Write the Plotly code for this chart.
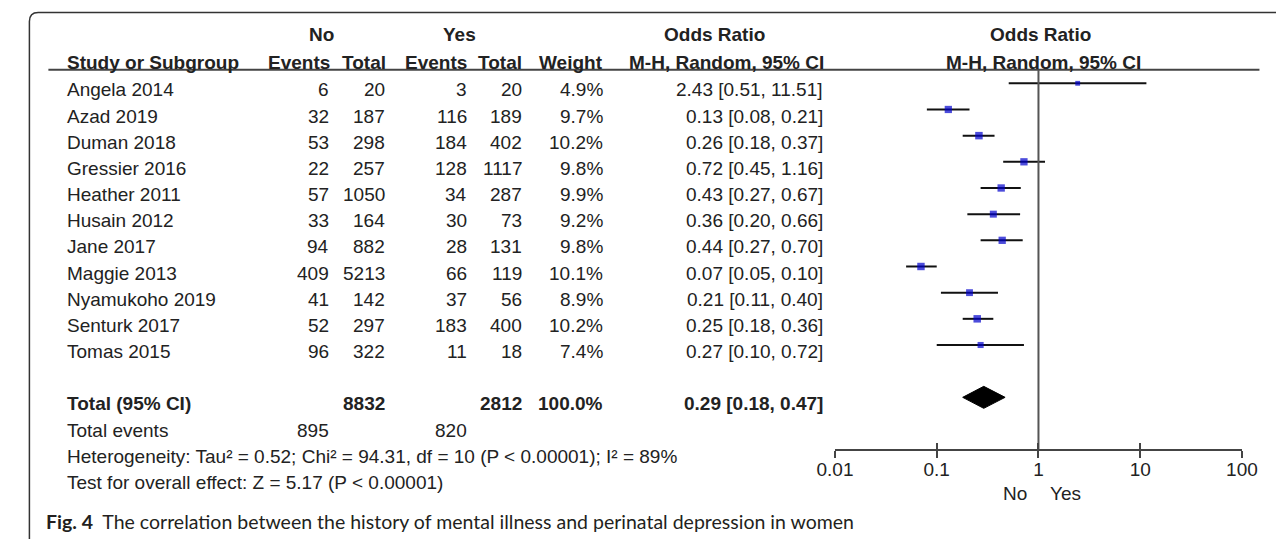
import plotly.graph_objects as go

W, H = 1284, 539

# ---------------- data ----------------
studies = ["Angela 2014", "Azad 2019", "Duman 2018", "Gressier 2016", "Heather 2011",
           "Husain 2012", "Jane 2017", "Maggie 2013", "Nyamukoho 2019", "Senturk 2017",
           "Tomas 2015"]
no_events = [6, 32, 53, 22, 57, 33, 94, 409, 41, 52, 96]
no_total = [20, 187, 298, 257, 1050, 164, 882, 5213, 142, 297, 322]
yes_events = [3, 116, 184, 128, 34, 30, 28, 66, 37, 183, 11]
yes_total = [20, 189, 402, 1117, 287, 73, 131, 119, 56, 400, 18]
weights = [4.9, 9.7, 10.2, 9.8, 9.9, 9.2, 9.8, 10.1, 8.9, 10.2, 7.4]
or_est = [2.43, 0.13, 0.26, 0.72, 0.43, 0.36, 0.44, 0.07, 0.21, 0.25, 0.27]
ci_lo = [0.51, 0.08, 0.18, 0.45, 0.27, 0.20, 0.27, 0.05, 0.11, 0.18, 0.10]
ci_hi = [11.51, 0.21, 0.37, 1.16, 0.67, 0.66, 0.70, 0.10, 0.40, 0.36, 0.72]

total_no = 8832
total_yes = 2812
total_weight = "100.0%"
events_no_sum = 895
events_yes_sum = 820
pooled_or = 0.29
pooled_lo = 0.18
pooled_hi = 0.47

heterogeneity = "Heterogeneity: Tau² = 0.52; Chi² = 94.31, df = 10 (P < 0.00001); I² = 89%"
overall = "Test for overall effect: Z = 5.17 (P < 0.00001)"
caption_bold = "Fig. 4"
caption = "The correlation between the history of mental illness and perinatal depression in women"

tick_vals = [0.01, 0.1, 1, 10, 100]
tick_text = ["0.01", "0.1", "1", "10", "100"]
favours_left = "No"
favours_right = "Yes"

# ---------------- layout helpers ----------------
OFF = 8             # page body margin compensation
ROW0_PX = 83.3 - OFF
ROW_PX = 26.17
FONT = "Liberation Sans, Arial, sans-serif"
FS = 19
TXT = "#222222"
LINE = "#444444"

def px_x(p):
    return (p - OFF) / W

def px_y(p):
    return 1 - (p - OFF) / H

n = len(studies)
rows = list(range(n))
total_row = n + 1
events_row = n + 2
axis_row = n + 3
text_dy = 0.25

fig = go.Figure()

# confidence interval lines
ci_x, ci_y = [], []
for i in rows:
    ci_x += [ci_lo[i], ci_hi[i], None]
    ci_y += [i, i, None]
fig.add_trace(go.Scatter(x=ci_x, y=ci_y, mode="lines",
                         line=dict(color="#111111", width=2), hoverinfo="skip"))

# line of no effect
fig.add_trace(go.Scatter(x=[1, 1], y=[-0.5, axis_row], mode="lines",
                         line=dict(color="#555555", width=2), hoverinfo="skip"))

# study point estimates
fig.add_trace(go.Scatter(x=or_est, y=rows, mode="markers",
                         marker=dict(symbol="square", color="#0000CC",
                                     size=[2.4 + 0.5 * w for w in weights],
                                     line=dict(width=0)),
                         hoverinfo="skip"))

# pooled diamond
dh = 0.42
fig.add_trace(go.Scatter(x=[pooled_lo, pooled_or, pooled_hi, pooled_or, pooled_lo],
                         y=[total_row, total_row - dh, total_row, total_row + dh, total_row],
                         mode="lines", fill="toself", fillcolor="black",
                         line=dict(color="black", width=1), hoverinfo="skip"))

ann = []

def add(text, xpx, row, anchor="right", bold=False, size=FS, family=FONT):
    ann.append(dict(text=("<b>%s</b>" % text) if bold else text,
                    x=px_x(xpx), xref="paper",
                    y=row + text_dy, yref="y",
                    xanchor=anchor, yanchor="middle", showarrow=False,
                    font=dict(family=family, size=size, color=TXT)))

# headers
hdr1 = -1.85 - text_dy
hdr2 = -0.81 - text_dy
add("No", 312, hdr1, "center", True)
add("Yes", 453, hdr1, "center", True)
add("Odds Ratio", 715, hdr1, "center", True)
add("Odds Ratio", 1050, hdr1, "center", True)
add("Study or Subgroup", 48, hdr2, "left", True)
add("Events", 322, hdr2, "right", True)
add("Total", 380, hdr2, "right", True)
add("Events", 463, hdr2, "right", True)
add("Total", 520, hdr2, "right", True)
add("Weight", 603, hdr2, "right", True)
add("M-H, Random, 95% CI", 830, hdr2, "right", True)
add("M-H, Random, 95% CI", 1053, hdr2, "center", True)

# study rows
for i in rows:
    add(studies[i], 48, i, "left")
    add(str(no_events[i]), 321, i)
    add(str(no_total[i]), 379, i)
    add(str(yes_events[i]), 463, i)
    add(str(yes_total[i]), 520, i)
    add("%.1f%%" % weights[i], 603, i)
    add("%.2f [%.2f, %.2f]" % (or_est[i], ci_lo[i], ci_hi[i]), 829, i)

# total rows
add("Total (95% CI)", 48, total_row, "left", True)
add(str(total_no), 379, total_row, bold=True)
add(str(total_yes), 520, total_row, bold=True)
add(total_weight, 603, total_row, bold=True)
add("%.2f [%.2f, %.2f]" % (pooled_or, pooled_lo, pooled_hi), 829, total_row, bold=True)
add("Total events", 48, events_row, "left")
add(str(events_no_sum), 321, events_row)
add(str(events_yes_sum), 463, events_row)
add(heterogeneity, 48, events_row + 1, "left")
add(overall, 48, events_row + 2, "left")

# favours labels
fav_row = (493 - OFF - ROW0_PX) / ROW_PX - text_dy
add(favours_left, 1038, fav_row, "right")
add(favours_right, 1058, fav_row, "left")

# caption
ann.append(dict(text="<b>%s</b>\u00a0\u00a0%s" % (caption_bold, caption),
                x=px_x(27), xref="paper", y=px_y(521), yref="paper",
                xanchor="left", yanchor="middle", showarrow=False,
                font=dict(family="Lato, Open Sans, sans-serif", size=19.5, color="#231f20")))

# frame (rounded top-left) and header rule
r = 9
x0, y0 = px_x(11.5), px_y(12.5)
frame = "M %f,%f L %f,%f Q %f,%f %f,%f L %f,%f" % (
    x0, px_y(H + OFF), x0, px_y(12.5 + r), x0, y0, px_x(11.5 + r), y0, 1.0, y0)
shapes = [
    dict(type="path", path=frame, xref="paper", yref="paper",
         line=dict(color="#333333", width=1.5)),
    dict(type="line", xref="paper", yref="paper",
         x0=px_x(31), x1=px_x(1275), y0=px_y(69.8), y1=px_y(69.8),
         line=dict(color=LINE, width=2)),
]

axis_pos = px_y(83.3 + ROW_PX * axis_row)
dom = [px_x(839), px_x(1257)]
yrange = [(H - ROW0_PX) / ROW_PX, (0 - ROW0_PX) / ROW_PX]

fig.update_layout(
    width=W, height=H, margin=dict(l=0, r=0, t=0, b=0),
    paper_bgcolor="white", plot_bgcolor="rgba(0,0,0,0)",
    showlegend=False, annotations=ann, shapes=shapes,
    xaxis=dict(type="log", range=[-2, 2], domain=dom, anchor="free", position=axis_pos,
               showline=True, linecolor=LINE, linewidth=2, showgrid=False, zeroline=False,
               ticks="outside", ticklen=7, tickwidth=2, tickcolor=LINE,
               tickvals=tick_vals, ticktext=tick_text, ticklabelstandoff=-4,
               tickfont=dict(family=FONT, size=FS, color=TXT), fixedrange=True),
    xaxis2=dict(type="log", range=[-2, 2], domain=dom, anchor="free", position=axis_pos,
                overlaying="x", showline=False, showgrid=False, zeroline=False,
                ticks="inside", ticklen=7, tickwidth=2, tickcolor=LINE,
                tickvals=tick_vals, showticklabels=False),
    yaxis=dict(range=yrange, domain=[0, 1], visible=False, fixedrange=True),
)
# invisible point so that xaxis2 is drawn
fig.add_trace(go.Scatter(x=[1], y=[axis_row], xaxis="x2", mode="markers",
                         marker=dict(opacity=0), hoverinfo="skip"))

fig.write_html("out.html")
